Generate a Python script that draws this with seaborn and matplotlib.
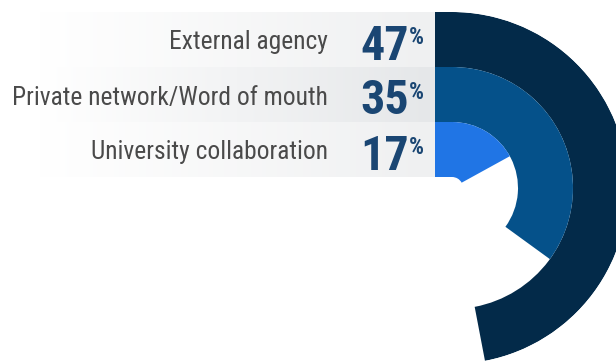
import numpy as np
import pandas as pd
import seaborn as sns
import matplotlib.pyplot as plt
from matplotlib.colors import to_rgb
from matplotlib.patches import Rectangle

# Share of respondents by recruitment channel
channels = ["External agency", "Private network/Word of mouth", "University collaboration"]
shares = [47, 35, 17]
band_colors = ["#032a49", "#05518a", "#2075e5"]

df = pd.DataFrame({"channel": channels, "share": shares, "color": band_colors})

sns.set_theme(style="white")
plt.rcParams["font.family"] = ["Roboto Condensed", "DejaVu Sans"]

W, H = 616, 362
fig = plt.figure(figsize=(W / 100, H / 100), dpi=100)
fig.patch.set_facecolor("white")

# pixel-space canvas for the label panels, stubs and texts
bg = fig.add_axes([0, 0, 1, 1])
bg.axis("off")

cx, cy = 452, 188          # ring centre (pixels)
r_out = 176                # outer radius of the outer ring
band = 55                  # ring thickness
row_top = 12               # top of first row
panel_right = 435

row_greys = ["#eff0f1", "#e5e7e9", "#eff0f1"]

for i, row in df.iterrows():
    y0 = row_top + i * band
    y1 = y0 + band
    # horizontal fade from white into grey
    grey = np.array(to_rgb(row_greys[i]))
    t = np.clip((np.linspace(0, panel_right, 300) - 40) / (panel_right - 40), 0, 1)
    grad = (1 - t)[:, None] * np.ones(3) + t[:, None] * grey
    bg.imshow(grad[None, :, :], extent=[0, panel_right, y1, y0],
              aspect="auto", interpolation="bilinear", zorder=0)
    # straight lead-in of each ring towards the panel
    bg.add_patch(Rectangle((panel_right, y0), cx - panel_right + 1, band,
                           facecolor=row["color"], edgecolor="none", zorder=1))
    bg.text(328, y0 + 37.5, row["channel"], ha="right", va="baseline",
            fontsize=18.4, color="#4a4a4a")
    bg.text(408.5, y0 + 47.5, f"{row['share']}", ha="right", va="baseline",
            fontsize=34.5, fontweight="bold", color="#1a4673")
    bg.text(408.5, y0 + 14.0, "%", ha="left", va="top",
            fontsize=17, fontweight="bold", color="#1a4673")

bg.set_xlim(0, W)
bg.set_ylim(H, 0)

# radial bars
pax = fig.add_axes([(cx - r_out) / W, (H - cy - r_out) / H, 2 * r_out / W, 2 * r_out / H],
                   projection="polar")
pax.set_theta_zero_location("N")
pax.set_theta_direction(-1)
pax.set_ylim(0, r_out)
pax.patch.set_alpha(0)
pax.grid(False)
pax.set_xticks([])
pax.set_yticks([])
pax.spines["polar"].set_visible(False)

for i, row in df.iterrows():
    r_hi = r_out - i * band
    pax.barh(r_hi - band / 2, row["share"] / 100 * 2 * np.pi, height=band, left=0,
             color=row["color"], edgecolor="none", align="center")

fig.savefig("out.png", dpi=100, facecolor="white")
